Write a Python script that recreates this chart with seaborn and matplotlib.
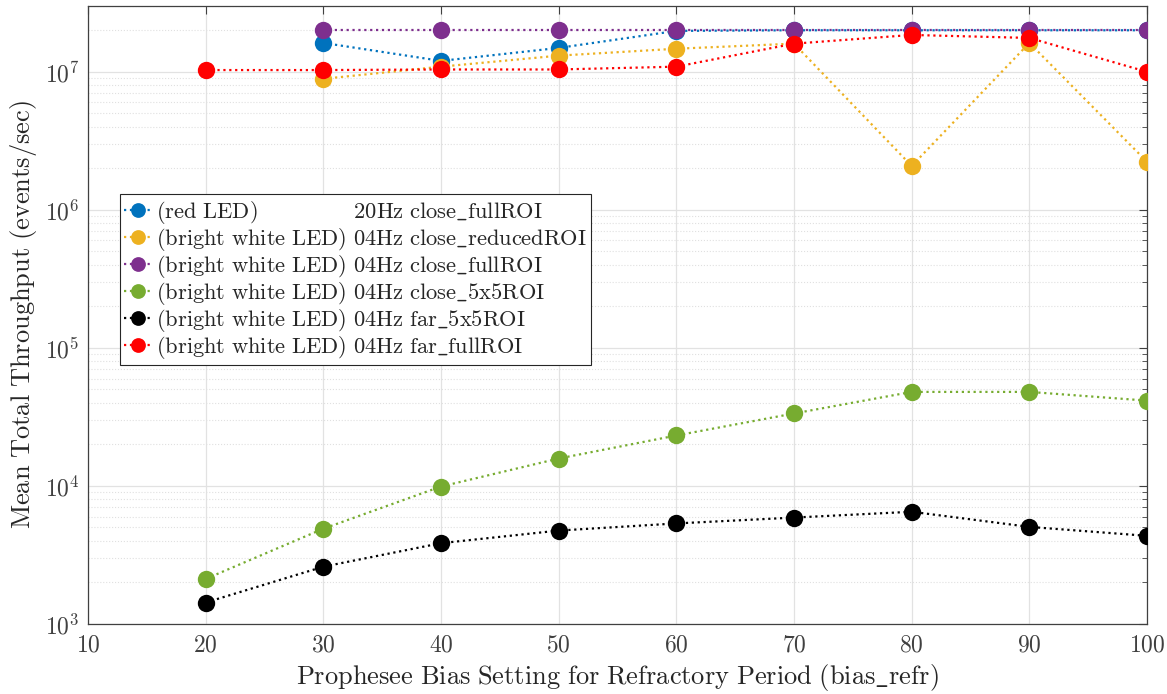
import numpy as np
import pandas as pd
import seaborn as sns
import matplotlib
matplotlib.use("Agg")
import matplotlib.pyplot as plt
from matplotlib.ticker import FixedLocator, FuncFormatter, LogLocator, NullFormatter

# Bias refractory-period settings
bias_refr = [20, 30, 40, 50, 60, 70, 80, 90, 100]

# Mean total throughput (events/sec) per recording
red_led_20hz_close_full = [np.nan, 1.62e7, 1.20e7, 1.49e7, 1.98e7, 2.0e7, 2.0e7, 2.0e7, 2.0e7]
white_04hz_close_reduced = [np.nan, 8.9e6, 1.09e7, 1.31e7, 1.47e7, 1.60e7, 2.08e6, 1.62e7, 2.23e6]
white_04hz_close_full = [np.nan, 2.0e7, 2.0e7, 2.0e7, 2.0e7, 2.0e7, 2.0e7, 2.0e7, 2.0e7]
white_04hz_close_5x5 = [2.12e3, 4.9e3, 9.9e3, 1.58e4, 2.32e4, 3.35e4, 4.8e4, 4.8e4, 4.15e4]
white_04hz_far_5x5 = [1.43e3, 2.6e3, 3.85e3, 4.75e3, 5.35e3, 5.9e3, 6.5e3, 5.05e3, 4.35e3]
white_04hz_far_full = [1.03e7, 1.03e7, 1.04e7, 1.04e7, 1.09e7, 1.60e7, 1.85e7, 1.76e7, 1.0e7]

series_labels = [
    r"$\mathrm{(red\ LED)}\hspace{4.85}\mathrm{20Hz\ close\_fullROI}$",
    r"$\mathrm{(bright\ white\ LED)\ 04Hz\ close\_reducedROI}$",
    r"$\mathrm{(bright\ white\ LED)\ 04Hz\ close\_fullROI}$",
    r"$\mathrm{(bright\ white\ LED)\ 04Hz\ close\_5x5ROI}$",
    r"$\mathrm{(bright\ white\ LED)\ 04Hz\ far\_5x5ROI}$",
    r"$\mathrm{(bright\ white\ LED)\ 04Hz\ far\_fullROI}$",
]
series_values = [
    red_led_20hz_close_full,
    white_04hz_close_reduced,
    white_04hz_close_full,
    white_04hz_close_5x5,
    white_04hz_far_5x5,
    white_04hz_far_full,
]
series_colors = ["#0072BD", "#EDB120", "#7E2F8E", "#77AC30", "#000000", "#FF0000"]

x_ticks = [10, 20, 30, 40, 50, 60, 70, 80, 90, 100]
y_ticks = [1e3, 1e4, 1e5, 1e6, 1e7]

sns.set_theme(style="white")
plt.rcParams["mathtext.fontset"] = "cm"
plt.rcParams["font.family"] = ["DejaVu Sans"]

fig = plt.figure(figsize=(11.67, 6.94), dpi=100)
ax = fig.add_axes([0.0754, 0.1009, 0.9075, 0.8905])

for label, vals, color in zip(series_labels, series_values, series_colors):
    df = pd.DataFrame({"bias": bias_refr, "rate": vals}).dropna()
    sns.lineplot(data=df, x="bias", y="rate", ax=ax, color=color, marker="o",
                 markersize=12.5, markeredgewidth=0, linestyle=":", linewidth=1.6,
                 label=label, zorder=3)

ax.set_yscale("log")
ax.set_xlim(10, 100)
ax.set_ylim(1e3, 3e7)

ax.xaxis.set_major_locator(FixedLocator(x_ticks))
ax.yaxis.set_major_locator(FixedLocator(y_ticks))
ax.yaxis.set_minor_locator(LogLocator(base=10, subs=np.arange(2, 10), numticks=20))
ax.yaxis.set_minor_formatter(NullFormatter())
ax.xaxis.set_major_formatter(FuncFormatter(lambda v, p: r"$\mathsf{%d}$" % v))
ax.yaxis.set_major_formatter(
    FuncFormatter(lambda v, p: r"$\mathsf{10^{%d}}$" % int(round(np.log10(v)))))

ax.grid(True, which="major", color="#e2e2e2", linewidth=0.9, linestyle="-")
ax.grid(True, which="minor", axis="y", color="#e0e0e0", linewidth=0.8, linestyle=":")
ax.set_axisbelow(True)

ax.tick_params(axis="both", which="both", direction="in", top=True, right=True,
               labelsize=17, labelcolor="#404040", color="#404040")
ax.tick_params(axis="both", which="major", length=6, width=0.8, pad=6)
ax.tick_params(axis="y", which="minor", length=3.5, width=0.6)
for s in ax.spines.values():
    s.set_color("#404040")
    s.set_linewidth(0.9)
    s.set_visible(True)

ax.set_xlabel(r"$\mathrm{Prophesee\ Bias\ Setting\ for\ Refractory\ Period\ (bias\_refr)}$",
              fontsize=19, color="#262626", labelpad=4)
ax.set_ylabel(r"$\mathrm{Mean\ Total\ Throughput\ (events/sec)}$",
              fontsize=19, color="#262626", labelpad=4)

leg = ax.legend(loc="upper left", bbox_to_anchor=(0.030, 0.695), fontsize=16.2,
                frameon=True, fancybox=False, edgecolor="#262626", framealpha=1,
                borderpad=0.2, labelspacing=0.0, handlelength=1.25,
                handletextpad=0.15, borderaxespad=0, markerscale=0.85)
leg.get_frame().set_linewidth(0.8)

fig.savefig("out.png", dpi=100)
